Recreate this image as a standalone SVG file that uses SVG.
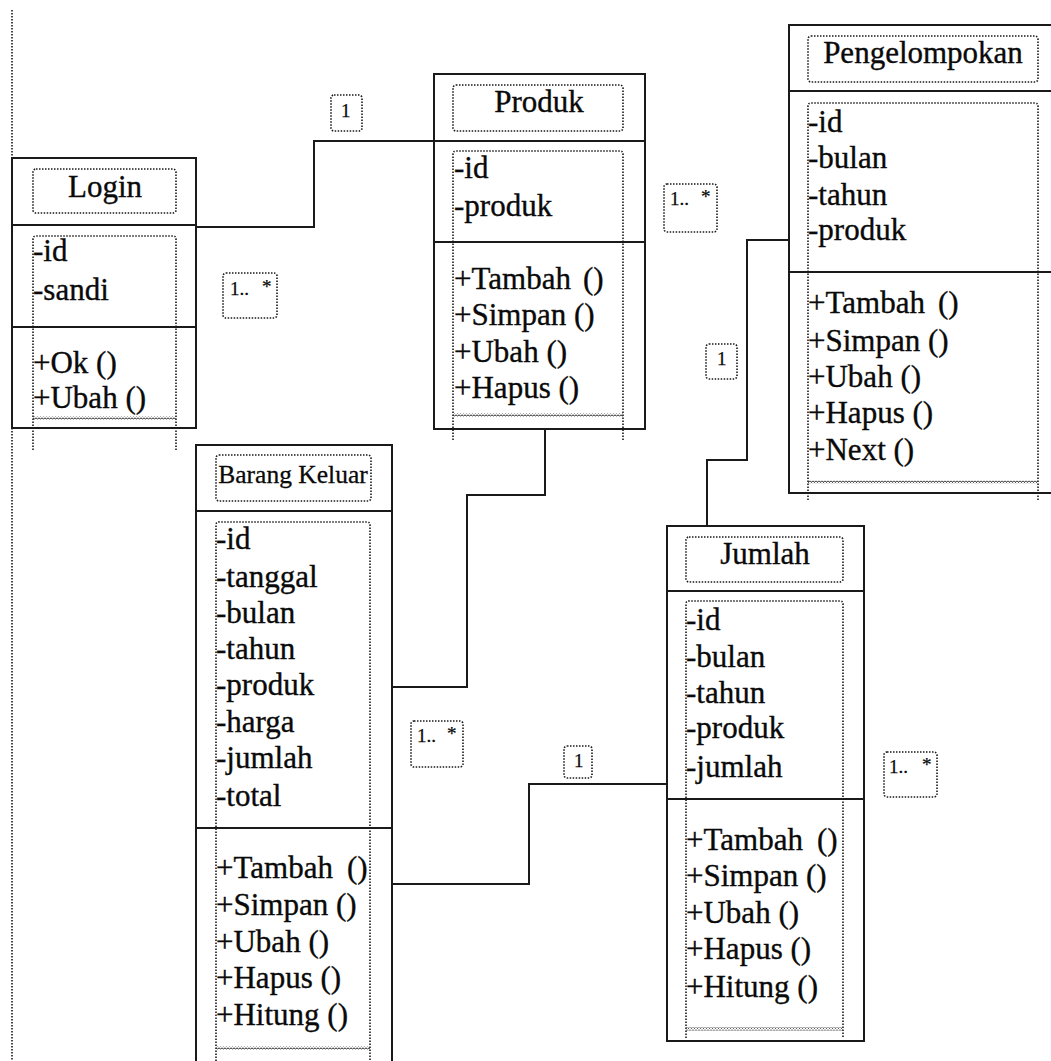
<svg xmlns="http://www.w3.org/2000/svg" width="1051" height="1061" viewBox="0 0 1051 1061">
  <defs>
    <style>
      .box{fill:#fff;stroke:#1a1a1a;stroke-width:2}
      .sep{stroke:#1a1a1a;stroke-width:2;fill:none}
      .dot{fill:none;stroke:#1a1a1a;stroke-width:1.6;stroke-dasharray:1.5 1.5}
      .wire{fill:none;stroke:#1a1a1a;stroke-width:2}
      .t{font-family:"Liberation Serif","Times New Roman",serif;font-size:31px;fill:#0a0a0a;stroke:#0a0a0a;stroke-width:0.35}
      .mid{text-anchor:middle}
      .lbl{font-family:"Liberation Serif","Times New Roman",serif;font-size:19px;fill:#0a0a0a;stroke:#0a0a0a;stroke-width:0.25}
    </style>
    <pattern id="zig" width="3" height="3" patternUnits="userSpaceOnUse">
      <path d="M0,0.5 L1.5,2.5 L3,0.5" fill="none" stroke="#222" stroke-width="1"/>
    </pattern>
  </defs>
  <rect width="1051" height="1061" fill="#fff"/>

  <!-- page margin guide -->
  <path class="dot" d="M12,10 V158 M12,428 V1061"/>

  <!-- associations -->
  <g id="connectors">
    <path class="wire" d="M196,227 H314 V141 H434"/>
    <path class="wire" d="M392,687 H467 V495 H545 V429"/>
    <path class="wire" d="M392,884 H529 V784 H667"/>
    <path class="wire" d="M788,240 H747 V460 H707 V527"/>

    <g id="mult-labels">
      <rect class="dot" x="223" y="273" width="54" height="45" rx="3"/>
      <text class="lbl" x="230" y="295">1..<tspan x="262" dy="-2">*</tspan></text>
      <rect class="dot" x="331" y="95" width="31" height="36" rx="3"/>
      <text class="lbl" x="341" y="117">1</text>
      <rect class="dot" x="664" y="184" width="53" height="48" rx="3"/>
      <text class="lbl" x="670" y="205">1..<tspan x="701" dy="-2">*</tspan></text>
      <rect class="dot" x="706" y="344" width="31" height="35" rx="3"/>
      <text class="lbl" x="717" y="365">1</text>
      <rect class="dot" x="411" y="721" width="52" height="46" rx="3"/>
      <text class="lbl" x="417" y="742">1..<tspan x="447" dy="-2">*</tspan></text>
      <rect class="dot" x="564" y="746" width="28" height="32" rx="3"/>
      <text class="lbl" x="574" y="767">1</text>
      <rect class="dot" x="884" y="752" width="53" height="45" rx="3"/>
      <text class="lbl" x="889" y="773">1..<tspan x="922" dy="-2">*</tspan></text>
    </g>
  </g>

  <!-- Login -->
  <g id="login">
    <rect class="box" x="12" y="158" width="184" height="270"/>
    <path class="sep" d="M12,225 H196 M12,327 H196"/>
    <rect class="dot" x="33" y="169" width="143" height="44" rx="3"/>
    <path class="dot" d="M33,450 V239 Q33,236 36,236 H173 Q176,236 176,239 V450"/>
    <rect x="33" y="416.5" width="143" height="3" fill="url(#zig)"/>
    <text class="t mid" x="105" y="197">Login</text>
    <text class="t" x="33" y="261">-id</text>
    <text class="t" x="33" y="300">-sandi</text>
    <text class="t" x="33" y="373">+Ok ()</text>
    <text class="t" x="33" y="408">+Ubah ()</text>
  </g>

  <!-- Produk -->
  <g id="produk">
    <rect class="box" x="434" y="74" width="211" height="355"/>
    <path class="sep" d="M434,141 H645 M434,242 H645"/>
    <rect class="dot" x="453" y="85" width="170" height="46" rx="3"/>
    <path class="dot" d="M453,440 V154 Q453,151 456,151 H620 Q623,151 623,154 V440"/>
    <rect x="453" y="413.5" width="170" height="3" fill="url(#zig)"/>
    <text class="t mid" x="539" y="112">Produk</text>
    <text class="t" x="454" y="178">-id</text>
    <text class="t" x="454" y="216">-produk</text>
    <text class="t" x="454" y="289">+Tambah <tspan x="583">()</tspan></text>
    <text class="t" x="454" y="325">+Simpan ()</text>
    <text class="t" x="454" y="362">+Ubah ()</text>
    <text class="t" x="454" y="398">+Hapus ()</text>
  </g>

  <!-- Pengelompokan -->
  <g id="pengelompokan">
    <rect class="box" x="789" y="25" width="280" height="468"/>
    <path class="sep" d="M789,91 H1060 M789,272 H1060"/>
    <rect class="dot" x="808" y="36" width="230" height="46" rx="3"/>
    <path class="dot" d="M808,500 V106 Q808,103 811,103 H1035 Q1038,103 1038,106 V500"/>
    <rect x="808" y="480.5" width="230" height="3" fill="url(#zig)"/>
    <text class="t mid" x="923" y="63">Pengelompokan</text>
    <text class="t" x="808" y="132">-id</text>
    <text class="t" x="808" y="168">-bulan</text>
    <text class="t" x="808" y="205">-tahun</text>
    <text class="t" x="808" y="240">-produk</text>
    <text class="t" x="808" y="313">+Tambah <tspan x="938">()</tspan></text>
    <text class="t" x="808" y="351">+Simpan ()</text>
    <text class="t" x="808" y="387">+Ubah ()</text>
    <text class="t" x="808" y="423">+Hapus ()</text>
    <text class="t" x="808" y="460">+Next ()</text>
  </g>

  <!-- Barang Keluar -->
  <g id="barang-keluar">
    <rect class="box" x="196" y="445" width="196" height="625"/>
    <path class="sep" d="M196,511 H392 M196,828 H392"/>
    <rect class="dot" x="216" y="455" width="155" height="46" rx="3"/>
    <path class="dot" d="M216,1061 V525 Q216,522 219,522 H367 Q370,522 370,525 V1061"/>
    <rect x="216" y="1046.5" width="154" height="3" fill="url(#zig)"/>
    <text class="t mid" x="293" y="483" style="font-size:25.5px;stroke-width:0.3">Barang Keluar</text>
    <text class="t" x="216" y="549">-id</text>
    <text class="t" x="216" y="587">-tanggal</text>
    <text class="t" x="216" y="623">-bulan</text>
    <text class="t" x="216" y="659">-tahun</text>
    <text class="t" x="216" y="695">-produk</text>
    <text class="t" x="216" y="732">-harga</text>
    <text class="t" x="216" y="768">-jumlah</text>
    <text class="t" x="216" y="806">-total</text>
    <text class="t" x="216" y="878">+Tambah <tspan x="347">()</tspan></text>
    <text class="t" x="216" y="915">+Simpan ()</text>
    <text class="t" x="216" y="952">+Ubah ()</text>
    <text class="t" x="216" y="988">+Hapus ()</text>
    <text class="t" x="216" y="1025">+Hitung ()</text>
  </g>

  <!-- Jumlah -->
  <g id="jumlah">
    <rect class="box" x="667" y="526" width="197" height="515"/>
    <path class="sep" d="M667,591 H864 M667,799 H864"/>
    <rect class="dot" x="686" y="537" width="157" height="45" rx="3"/>
    <path class="dot" d="M686,1038 V604 Q686,601 689,601 H840 Q843,601 843,604 V1038"/>
    <rect x="686" y="1027.5" width="157" height="3" fill="url(#zig)"/>
    <text class="t mid" x="765" y="564">Jumlah</text>
    <text class="t" x="686" y="630">-id</text>
    <text class="t" x="686" y="667">-bulan</text>
    <text class="t" x="686" y="703">-tahun</text>
    <text class="t" x="686" y="738">-produk</text>
    <text class="t" x="686" y="777">-jumlah</text>
    <text class="t" x="686" y="850">+Tambah <tspan x="817">()</tspan></text>
    <text class="t" x="686" y="886">+Simpan ()</text>
    <text class="t" x="686" y="923">+Ubah ()</text>
    <text class="t" x="686" y="959">+Hapus ()</text>
    <text class="t" x="686" y="997">+Hitung ()</text>
  </g>
</svg>
